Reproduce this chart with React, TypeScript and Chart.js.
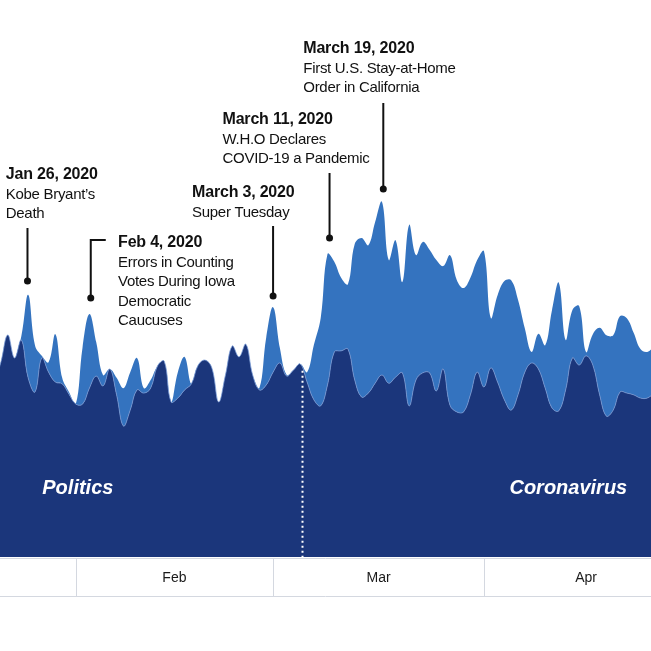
import React, { useEffect, useRef } from "react";
import { Chart, registerables } from "chart.js";

Chart.register(...registerables);

// Days are counted relative to Feb 1, 2020 (0 = Feb 1). First point = Jan 20.
const START_DAY = -12;

// Share of coverage (index, peak total = 100)
const politics = [
  48.5, 55.0, 62.6, 56.1, 61.2, 50.5, 46.5, 56.1, 52.1, 49.3, 48.8, 45.9,
  43.1, 43.1, 47.6, 51.0, 48.2, 53.0, 45.7, 36.9, 41.4, 47.1, 46.2, 47.6,
  53.8, 55.2, 43.7, 44.8, 47.1, 48.8, 54.1, 55.5, 53.3, 43.7, 51.3, 59.5,
  56.4, 60.0, 51.3, 47.1, 48.5, 52.1, 54.7, 51.0, 52.7, 54.4, 49.3, 44.3,
  42.6, 48.5, 57.8, 58.1, 58.6, 49.9, 45.1, 46.2, 49.0, 51.3, 49.0, 50.7,
  51.9, 42.6, 49.9, 51.9, 51.9, 46.8, 53.0, 42.8, 40.9, 40.9, 45.7, 52.1,
  47.9, 53.3, 49.3, 44.3, 41.4, 45.7, 52.1, 54.7, 53.0, 47.6, 42.0, 41.2,
  47.1, 56.1, 54.1, 56.7, 54.1, 45.7, 39.7, 41.4, 46.5, 46.2, 45.7, 44.8,
  44.8, 46.2,
];

const coronavirus = [
  0, 0, 0, 0, 1.1, 23.4, 13.2, 0.6, 2.8, 13.5, 1.7, 0.6,
  0, 16.1, 20.9, 9.6, 3.1, 0, 4.8, 10.7, 10.7, 9.0, 1.4, 2.3,
  0, 0, 0, 7.3, 9.3, 0, 0, 0, 0, 0, 0, 0,
  0, 0, 0, 0.6, 13.5, 18.3, 4.2, 0.3, 0, 0, 2.8, 15.5,
  24.8, 36.9, 25.4, 20.6, 18.3, 38.3, 44.8, 41.7, 45.4, 48.8, 34.7, 38.6,
  25.6, 51.0, 35.2, 36.9, 34.7, 36.9, 29.0, 42.3, 37.2, 34.9, 33.0, 31.6,
  38.3, 14.1, 24.5, 33.5, 36.6, 26.8, 12.4, 3.1, 9.9, 12.1, 27.6, 36.1,
  14.1, 13.5, 16.6, 1.1, 8.7, 18.9, 22.8, 21.1, 21.4, 21.1, 17.5, 13.8,
  13.0, 13.2,
];

const dayOffsets = politics.map((_, i) => START_DAY + i);

// Month axis (days relative to Feb 1)
const monthStarts = [0, 29, 60];
const monthLabels = ["Feb", "Mar", "Apr"];
const monthCenters = [14.5, 44.5, 75];

// Annotations
const annDays = [-7.1, 2.2, 29.0, 37.3, 45.2];
const annDotValues = [77.8, 73.0, 73.6, 89.9, 103.7];
const annTitles = [
  "Jan 26, 2020",
  "Feb 4, 2020",
  "March 3, 2020",
  "March 11, 2020",
  "March 19, 2020",
];
const annLines = [
  ["Kobe Bryant\u2019s", "Death"],
  ["Errors in Counting", "Votes During Iowa", "Democratic", "Caucuses"],
  ["Super Tuesday"],
  ["W.H.O Declares", "COVID-19 a Pandemic"],
  ["First U.S. Stay-at-Home", "Order in California"],
];

const regionLabels = ["Politics", "Coronavirus"];
const regionDays = [0.3, 72.4];
const DIVIDER_DAY = 33.2;
const DIVIDER_TOP_VALUE = 52.5;

// Layout (pixels)
const ANN_LAYOUT = [
  { dx: -21.7, lineTop: 228, titleY: 179, elbow: 0 },
  { dx: 27.3, lineTop: 240, titleY: 247, elbow: 15 },
  { dx: -81, lineTop: 226, titleY: 197, elbow: 0 },
  { dx: -107, lineTop: 173, titleY: 124, elbow: 0 },
  { dx: -80, lineTop: 103, titleY: 53, elbow: 0 },
];

const DARK = "#1b367b";
const LIGHT = "#3473bf";
const FONT = '"Liberation Sans", Arial, sans-serif';

const overlay = {
  id: "overlay",
  afterDraw(chart: any) {
    const { ctx, chartArea } = chart;
    const xs = chart.scales.x;
    const ys = chart.scales.y;
    ctx.save();

    // dotted divider
    const dvx = Math.round(xs.getPixelForValue(DIVIDER_DAY)) + 0.5;
    ctx.strokeStyle = "#ffffff";
    ctx.lineWidth = 2;
    ctx.setLineDash([2, 3]);
    ctx.beginPath();
    ctx.moveTo(dvx, ys.getPixelForValue(DIVIDER_TOP_VALUE));
    ctx.lineTo(dvx, chartArea.bottom);
    ctx.stroke();
    ctx.setLineDash([]);

    // region labels
    ctx.fillStyle = "#ffffff";
    ctx.font = `italic bold 20px ${FONT}`;
    ctx.textAlign = "center";
    ctx.textBaseline = "alphabetic";
    regionLabels.forEach((t, i) => {
      ctx.fillText(t, xs.getPixelForValue(regionDays[i]), 494);
    });

    // axis band
    const bandTop = chartArea.bottom + 1.5;
    const bandBottom = chartArea.bottom + 39.5;
    ctx.strokeStyle = "#d4d8e0";
    ctx.lineWidth = 1;
    ctx.beginPath();
    ctx.moveTo(0, bandTop);
    ctx.lineTo(chart.width, bandTop);
    ctx.moveTo(0, bandBottom);
    ctx.lineTo(chart.width, bandBottom);
    monthStarts.forEach((d) => {
      const px = Math.round(xs.getPixelForValue(d)) + 0.5;
      ctx.moveTo(px, bandTop);
      ctx.lineTo(px, bandBottom);
    });
    ctx.stroke();
    ctx.fillStyle = "#1a1a1a";
    ctx.font = `14px ${FONT}`;
    ctx.textAlign = "center";
    ctx.textBaseline = "middle";
    monthLabels.forEach((m, i) => {
      ctx.fillText(m, xs.getPixelForValue(monthCenters[i]), (bandTop + bandBottom) / 2 + 1);
    });

    // annotations
    ctx.textAlign = "left";
    ctx.textBaseline = "alphabetic";
    annDays.forEach((d, i) => {
      const L = ANN_LAYOUT[i];
      const cx = xs.getPixelForValue(d);
      const dotY = ys.getPixelForValue(annDotValues[i]);
      ctx.strokeStyle = "#111111";
      ctx.lineWidth = 2;
      ctx.beginPath();
      if (L.elbow) {
        ctx.moveTo(cx + L.elbow, L.lineTop);
        ctx.lineTo(cx, L.lineTop);
      } else {
        ctx.moveTo(cx, L.lineTop);
      }
      ctx.lineTo(cx, dotY);
      ctx.stroke();
      ctx.fillStyle = "#111111";
      ctx.beginPath();
      ctx.arc(cx, dotY, 3.5, 0, Math.PI * 2);
      ctx.fill();

      const tx = cx + L.dx;
      (ctx as any).letterSpacing = "-0.2px";
      ctx.font = `bold 16px ${FONT}`;
      ctx.fillText(annTitles[i], tx, L.titleY);
      (ctx as any).letterSpacing = "-0.3px";
      ctx.font = `15px ${FONT}`;
      annLines[i].forEach((ln, j) => {
        ctx.fillText(ln, tx, L.titleY + 19.6 * (j + 1));
      });
    });
    (ctx as any).letterSpacing = "0px";
    ctx.restore();
  },
};

export default function App() {
  const ref = useRef<HTMLCanvasElement | null>(null);
  useEffect(() => {
    if (!ref.current) return;
    const chart = new Chart(ref.current, {
      type: "line",
      data: {
        datasets: [
          {
            label: "Politics",
            data: dayOffsets.map((d, i) => ({ x: d, y: politics[i] })),
            fill: "origin",
            backgroundColor: DARK,
            borderColor: "rgba(120,155,215,0.75)",
            borderWidth: 1,
            pointRadius: 0,
            tension: 0.4,
          },
          {
            label: "Coronavirus",
            data: dayOffsets.map((d, i) => ({ x: d, y: coronavirus[i] })),
            fill: "-1",
            backgroundColor: LIGHT,
            borderColor: LIGHT,
            borderWidth: 0,
            pointRadius: 0,
            tension: 0.4,
          },
        ],
      },
      options: {
        animation: false,
        responsive: false,
        events: [],
        layout: { padding: { left: 0, right: 0, top: 0, bottom: 94 } },
        plugins: { legend: { display: false }, tooltip: { enabled: false } },
        scales: {
          x: { type: "linear", min: -11.14, max: 84.55, display: false },
          y: { stacked: true, min: 0, max: 157, display: false },
        },
      },
      plugins: [overlay],
    } as any);
    return () => chart.destroy();
  }, []);
  return (
    <div style={{ position: "absolute", left: 0, top: 0, width: 651, height: 651, background: "#fff" }}>
      <canvas ref={ref} width={651} height={651} style={{ display: "block", width: 651, height: 651 }} />
    </div>
  );
}
